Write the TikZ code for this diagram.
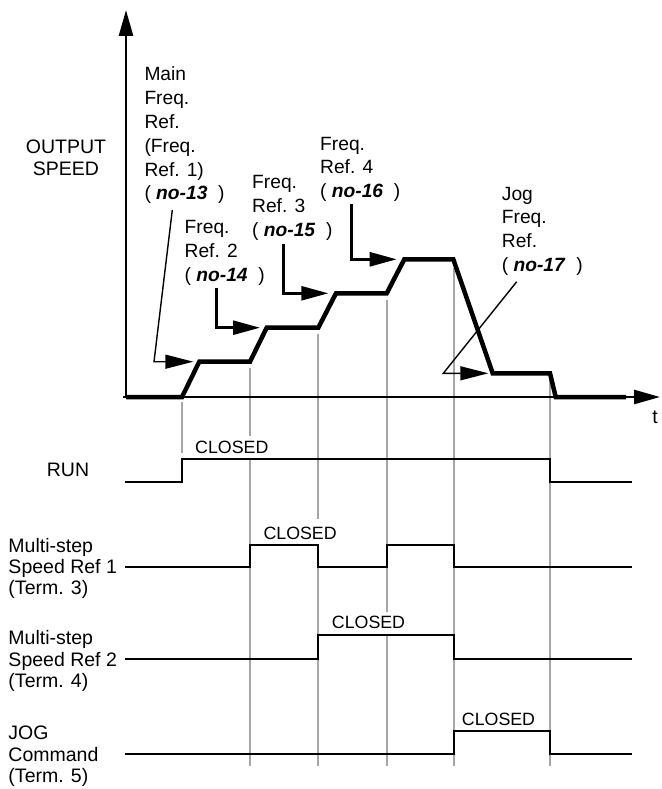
\documentclass[tikz,border=0pt]{standalone}
\usepackage{fontspec}
\setmainfont{Liberation Sans}
\usetikzlibrary{arrows.meta}
\definecolor{gridgray}{HTML}{A6A6A6}
\begin{document}
\begin{tikzpicture}[x=1pt,y=-1pt,
  lbl/.style={inner sep=0pt, anchor=north west, align=left, font=\fontsize{19.2}{23.8}\selectfont},
  sidelbl/.style={inner sep=0pt, anchor=west, align=left, font=\fontsize{19.5}{21.2}\selectfont},
  closedlbl/.style={inner sep=0pt, anchor=north west, font=\fontsize{17.8}{20}\selectfont},
  sig/.style={line width=2.2pt, line join=miter},
  vline/.style={line width=2.2pt, draw=gridgray},
  prof/.style={line width=4.5pt, line join=miter},
  axisline/.style={line width=2.6pt, -{Triangle[length=26pt,width=14pt]}},
  pointer/.style={line width=2.6pt, line join=miter, -{Triangle[length=27pt,width=14pt]}},
  thinpointer/.style={line width=1.4pt, line join=miter, -{Triangle[length=28pt,width=14pt]}}]
\useasboundingbox (0,0) rectangle (661,789);

% vertical grey guide lines
\draw[vline] (182.3,401.7) -- (182.3,453.3);
\draw[vline] (250,368) -- (250,436);
\draw[vline] (250,459) -- (250,766);
\draw[vline] (318.3,334) -- (318.3,519);
\draw[vline] (318.3,545) -- (318.3,766);
\draw[vline] (386.7,300) -- (386.7,612);
\draw[vline] (386.7,635) -- (386.7,766);
\draw[vline] (454.3,268) -- (454.3,766);
\draw[vline] (550,380) -- (550,766);

% axes
\coordinate (origin) at (126,398.3);
\coordinate (ytip) at (126,10);
\coordinate (xstart) at (123,397);
\coordinate (xtip) at (660,397);
\draw[axisline] (origin) -- (ytip);
\draw[axisline] (xstart) -- (xtip);
\node[font=\fontsize{19.5}{22}\selectfont, anchor=base, inner sep=0pt] (t) at (655,423) {t};

% output speed profile
\draw[prof] (126,397) -- (182,397) -- (199.3,361.7) -- (250,361.7) -- (266.7,327.7)
  -- (318.3,327.7) -- (336,293.3) -- (386.7,293.3) -- (404.3,259.3) -- (453.3,259.3)
  -- (492.7,373.3) -- (550,373.3) -- (555.7,397) -- (626,397);

% labels
\node[inner sep=0pt, anchor=north, align=center, font=\fontsize{19.5}{21.7}\selectfont] (os) at (66,140) {OUTPUT\\SPEED};
\node[lbl] (l13) at (144.3,66.7) {Main\\Freq.\\Ref.\\(Freq.\\Ref. 1)\\( \textbf{\textit{no-13}}\ \ )};
\node[lbl] (l14) at (184.5,220) {Freq.\\Ref. 2\\( \textbf{\textit{no-14}}\ \ )};
\node[lbl] (l15) at (252,175) {Freq.\\Ref. 3\\( \textbf{\textit{no-15}}\ \ )};
\node[lbl] (l16) at (320,136.7) {Freq.\\Ref. 4\\( \textbf{\textit{no-16}}\ \ )};
\node[lbl] (ljog) at (501.7,186.7) {Jog\\Freq.\\Ref.\\( \textbf{\textit{no-17}}\ \ )};

% pointers
\coordinate (p13a) at (172.3,210);
\coordinate (p13b) at (154,361.7);
\coordinate (p13c) at (193.3,361.7);
\draw[thinpointer] (p13a) -- (p13b) -- (p13c);
\coordinate (p14a) at (216.7,288.3);
\coordinate (p14b) at (216.7,327.7);
\coordinate (p14c) at (260,327.7);
\draw[pointer] (p14a) -- (p14b) -- (p14c);
\coordinate (p15a) at (283.3,244);
\coordinate (p15b) at (283.3,293.3);
\coordinate (p15c) at (328.3,293.3);
\draw[pointer] (p15a) -- (p15b) -- (p15c);
\coordinate (p16a) at (351.7,204);
\coordinate (p16b) at (351.7,259.3);
\coordinate (p16c) at (396.7,259.3);
\draw[pointer] (p16a) -- (p16b) -- (p16c);
\coordinate (pja) at (516.7,281.7);
\coordinate (pjb) at (443.3,373.3);
\coordinate (pjc) at (488.3,373.3);
\draw[thinpointer] (pja) -- (pjb) -- (pjc);

% timing signals
\node[inner sep=0pt, font=\fontsize{19.5}{22}\selectfont] (run) at (68,470) {RUN};
\draw[sig] (125,482.3) -- (182.3,482.3) -- (182.3,459) -- (550,459) -- (550,482.3) -- (631.7,482.3);
\node[closedlbl] (c1) at (195,441) {CLOSED};

\node[sidelbl] (ms1) at (8.3,568.7) {Multi-step\\Speed Ref 1\\(Term. 3)};
\draw[sig] (125,566.7) -- (250,566.7) -- (250,545) -- (318.3,545) -- (318.3,566.7) -- (386.7,566.7)
  -- (386.7,545) -- (454.3,545) -- (454.3,566.7) -- (631.7,566.7);
\node[closedlbl] (c2) at (263.3,526.5) {CLOSED};

\node[sidelbl] (ms2) at (8.3,661) {Multi-step\\Speed Ref 2\\(Term. 4)};
\draw[sig] (125,659) -- (318.3,659) -- (318.3,635) -- (454.3,635) -- (454.3,659) -- (631.7,659);
\node[closedlbl] (c3) at (331.7,616) {CLOSED};

\node[sidelbl] (jog) at (8.3,756.3) {JOG\\Command\\(Term. 5)};
\draw[sig] (125,754.3) -- (454.3,754.3) -- (454.3,731) -- (550,731) -- (550,754.3) -- (631.7,754.3);
\node[closedlbl] (c4) at (461.7,713) {CLOSED};
\end{tikzpicture}
\end{document}
